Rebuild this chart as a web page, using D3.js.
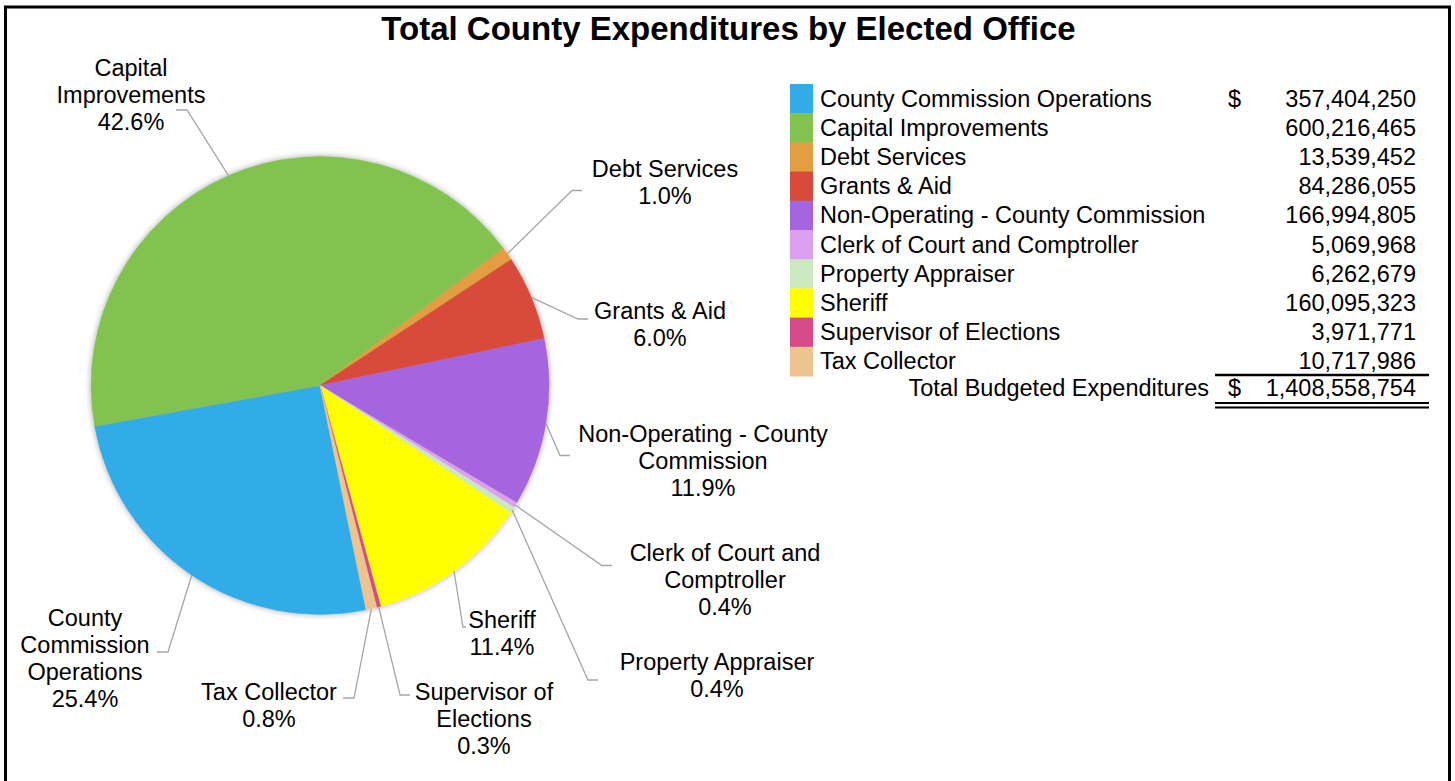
<!DOCTYPE html>
<html>
<head>
<meta charset="utf-8">
<script src="https://cdn.jsdelivr.net/npm/d3@7"></script>
<style>
  html, body { margin: 0; padding: 0; background: #fff; }
  svg { display: block; font-family: Arial, "Liberation Sans", sans-serif; }
</style>
</head>
<body>
<svg id="chart" width="1455" height="781"></svg>
<script>
// Budget by elected office (dollars)
const offices = [
  "County Commission Operations",
  "Capital Improvements",
  "Debt Services",
  "Grants & Aid",
  "Non-Operating - County Commission",
  "Clerk of Court and Comptroller",
  "Property Appraiser",
  "Sheriff",
  "Supervisor of Elections",
  "Tax Collector"
];
const amounts = [
  357404250, 600216465, 13539452, 84286055, 166994805,
  5069968, 6262679, 160095323, 3971771, 10717986
];
const sliceColors = [
  "#33abe9", "#82c350", "#e29e40", "#d84b3b", "#a465df",
  "#dca0f0", "#cce8c0", "#ffff00", "#d64a8a", "#edc48e"
];
// Wrapped label lines shown next to the pie
const labelLines = [
  ["County", "Commission", "Operations"],
  ["Capital", "Improvements"],
  ["Debt Services"],
  ["Grants & Aid"],
  ["Non-Operating - County", "Commission"],
  ["Clerk of Court and", "Comptroller"],
  ["Property Appraiser"],
  ["Sheriff"],
  ["Supervisor of", "Elections"],
  ["Tax Collector"]
];
const totalLabel = "Total Budgeted Expenditures";
const titleText = "Total County Expenditures by Elected Office";

// Label placement: text centre x, first baseline y, and leader elbow point
const labelLayout = [
  { x: 85,  y: 626, elbow: [168, 652], tick: [157, 652] },
  { x: 131, y: 76,  elbow: [187, 110], tick: [176, 110] },
  { x: 665, y: 177, elbow: [572, 190.5], tick: [582, 190.5] },
  { x: 660, y: 319, elbow: [578, 319], tick: [588, 319] },
  { x: 703, y: 442, elbow: [560, 455.5], tick: [570, 455.5] },
  { x: 725, y: 561, elbow: [602, 565.5], tick: [612, 565.5] },
  { x: 717, y: 670, elbow: [588, 680], tick: [598, 680] },
  { x: 502, y: 628, elbow: [463, 627], tick: [466, 627] },
  { x: 484, y: 700, elbow: [400, 695], tick: [410, 695] },
  { x: 269, y: 700, elbow: [354, 698], tick: [343, 698] }
];

const svg = d3.select("#chart");
const W = 1455, H = 781;
const fontSize = 23.5, lineGap = 27;

// outer frame
svg.append("rect")
  .attr("x", 5.5).attr("y", 7).attr("width", W - 11).attr("height", H + 10)
  .attr("fill", "#fff").attr("stroke", "#000").attr("stroke-width", 3);

// title
svg.append("text")
  .attr("x", 728.5).attr("y", 40)
  .attr("text-anchor", "middle")
  .attr("font-size", 33).attr("font-weight", "bold")
  .text(titleText);

// soft shadow under the pie
const defs = svg.append("defs");
const f = defs.append("filter").attr("id", "pieShadow")
  .attr("x", "-10%").attr("y", "-10%").attr("width", "120%").attr("height", "120%");
f.append("feGaussianBlur").attr("in", "SourceAlpha").attr("stdDeviation", 3).attr("result", "b");
f.append("feComponentTransfer").attr("in", "b").attr("result", "s")
  .append("feFuncA").attr("type", "linear").attr("slope", 0.35);
const fm = f.append("feMerge");
fm.append("feMergeNode").attr("in", "s");
fm.append("feMergeNode").attr("in", "SourceGraphic");

const cx = 320, cy = 385.5, R = 229;
const total = d3.sum(amounts);
const startDeg = 168.4;
const pie = d3.pie().sort(null).value(d => d)
  .startAngle(startDeg * Math.PI / 180)
  .endAngle(startDeg * Math.PI / 180 + 2 * Math.PI);
const arcs = pie(amounts);
const arc = d3.arc().innerRadius(0).outerRadius(R);

const g = svg.append("g").attr("transform", `translate(${cx},${cy})`);
const slices = g.append("g").attr("filter", "url(#pieShadow)");
slices.selectAll("path").data(arcs).join("path")
  .attr("d", arc)
  .attr("fill", (d, i) => sliceColors[i])
  .attr("stroke", (d, i) => sliceColors[i])
  .attr("stroke-width", 0.5);

// leader lines and labels
const edgePoint = d => {
  const a = (d.startAngle + d.endAngle) / 2;
  return [cx + R * Math.sin(a), cy - R * Math.cos(a)];
};
const leaders = svg.append("g");
arcs.forEach((d, i) => {
  const L = labelLayout[i];
  const p = edgePoint(d);
  leaders.append("polyline")
    .attr("points", [L.tick, L.elbow, p].map(q => q.join(",")).join(" "))
    .attr("fill", "none").attr("stroke", "#a6a6a6").attr("stroke-width", 1.3);

  const pct = d3.format(".1%")(amounts[i] / total);
  const lines = labelLines[i].concat([pct]);
  const t = svg.append("text")
    .attr("text-anchor", "middle").attr("font-size", fontSize).attr("fill", "#000");
  lines.forEach((s, k) => {
    t.append("tspan").attr("x", L.x).attr("y", L.y + k * lineGap).text(s);
  });
});

// legend table
const legX = 790, legTop = 84, rowH = 29.2, swW = 23;
const fmt = d3.format(",");
const rows = svg.append("g");
const legScale = d3.scaleBand().domain(d3.range(offices.length))
  .range([legTop, legTop + rowH * offices.length]).padding(0);
offices.forEach((name, i) => {
  const y0 = legScale(i);
  rows.append("rect")
    .attr("x", legX).attr("y", y0).attr("width", swW).attr("height", legScale.bandwidth() + 0.5)
    .attr("fill", sliceColors[i]);
  const base = y0 + rowH / 2 + 8;
  rows.append("text").attr("x", 820).attr("y", base)
    .attr("font-size", fontSize).text(name);
  rows.append("text").attr("x", 1416).attr("y", base)
    .attr("font-size", fontSize).attr("text-anchor", "end").text(fmt(amounts[i]));
  if (i === 0) {
    rows.append("text").attr("x", 1228).attr("y", base)
      .attr("font-size", fontSize).text("$");
  }
});

// total row with accounting rules
const totY = 396;
rows.append("line").attr("x1", 1215).attr("x2", 1429).attr("y1", 375).attr("y2", 375)
  .attr("stroke", "#000").attr("stroke-width", 2.5);
rows.append("text").attr("x", 1209).attr("y", totY)
  .attr("font-size", fontSize).attr("text-anchor", "end").text(totalLabel);
rows.append("text").attr("x", 1228).attr("y", totY)
  .attr("font-size", fontSize).text("$");
rows.append("text").attr("x", 1416).attr("y", totY)
  .attr("font-size", fontSize).attr("text-anchor", "end").text(fmt(total));
rows.append("line").attr("x1", 1215).attr("x2", 1429).attr("y1", 403).attr("y2", 403)
  .attr("stroke", "#000").attr("stroke-width", 2);
rows.append("line").attr("x1", 1215).attr("x2", 1429).attr("y1", 407.5).attr("y2", 407.5)
  .attr("stroke", "#000").attr("stroke-width", 2);
</script>
</body>
</html>
